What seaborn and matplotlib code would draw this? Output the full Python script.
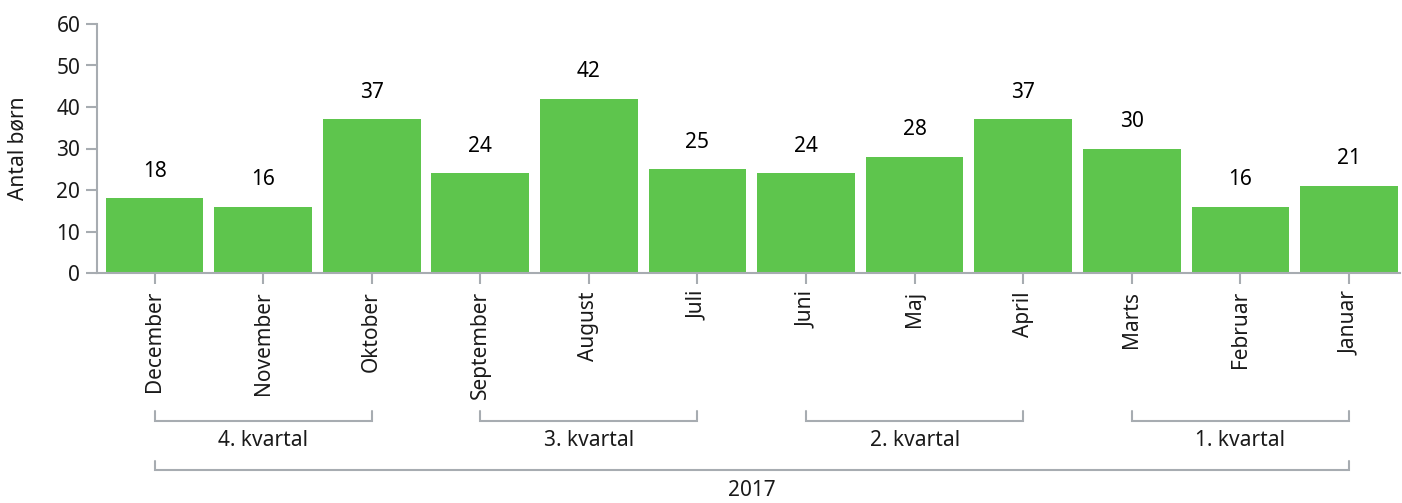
import matplotlib
matplotlib.use("Agg")
import matplotlib.pyplot as plt
import matplotlib.transforms as mtransforms
import seaborn as sns
import pandas as pd

months = ["December", "November", "Oktober", "September", "August", "Juli",
          "Juni", "Maj", "April", "Marts", "Februar", "Januar"]
values = [18, 16, 37, 24, 42, 25, 24, 28, 37, 30, 16, 21]
quarters = ["4. kvartal", "3. kvartal", "2. kvartal", "1. kvartal"]
year_label = "2017"
y_label = "Antal børn"
y_ticks = [0, 10, 20, 30, 40, 50, 60]

sns.set_theme(style="white")
plt.rcParams['font.family'] = ['Noto Sans', 'DejaVu Sans']

GREEN = "#5EC54D"
GREY = "#A7ACB1"
TXT = "#1a1a1a"
FS = 15

df = pd.DataFrame({"month": months, "value": values})

W, H = 1402, 503
fig = plt.figure(figsize=(W / 100, H / 100), dpi=100)
ax = fig.add_axes([97 / W, 1 - 273 / H, (1400 - 97) / W, (273 - 24) / H])

sns.barplot(data=df, x="month", y="value", color=GREEN, width=0.9,
            saturation=1, ax=ax, order=months)
for p in ax.patches:
    p.set_edgecolor("none")

ax.set_ylim(0, 60)
ax.set_xlim(-0.53, 11.47)
ax.set_yticks(y_ticks)
ax.set_ylabel(y_label, fontsize=FS, color=TXT, labelpad=20)
ax.set_xlabel("")

for s in ["top", "right"]:
    ax.spines[s].set_visible(False)
for s in ["left", "bottom"]:
    ax.spines[s].set_visible(True)
    ax.spines[s].set_color(GREY)
    ax.spines[s].set_linewidth(1.5)

ax.tick_params(axis="y", length=8, width=1.5, color=GREY, labelsize=FS,
               labelcolor=TXT, pad=4, left=True)
ax.tick_params(axis="x", length=8, width=1.5, color=GREY, labelsize=FS,
               labelcolor=TXT, pad=5, bottom=True, rotation=90)
for lbl in ax.get_xticklabels():
    lbl.set_va("top")

for i, v in enumerate(values):
    ax.annotate(str(v), (i, v), xytext=(0, 12), textcoords="offset points",
                ha="center", va="bottom", fontsize=FS, color="black")

trans = mtransforms.blended_transform_factory(ax.transData, fig.transFigure)

def fy(px):
    return 1 - px / H

def bracket(x0, x1, ytop, ybot, label, ylab):
    ax.plot([x0, x0, x1, x1], [fy(ytop), fy(ybot), fy(ybot), fy(ytop)],
            transform=trans, color=GREY, lw=1.5, clip_on=False,
            solid_joinstyle="miter")
    ax.text((x0 + x1) / 2, fy(ylab), label, transform=trans, ha="center",
            va="center", fontsize=FS, color=TXT)

for q, name in enumerate(quarters):
    bracket(q * 3, q * 3 + 2, 411, 421, name, 441)
bracket(0, len(months) - 1, 461, 470, year_label, 490)

fig.savefig("out.png", dpi=100)
